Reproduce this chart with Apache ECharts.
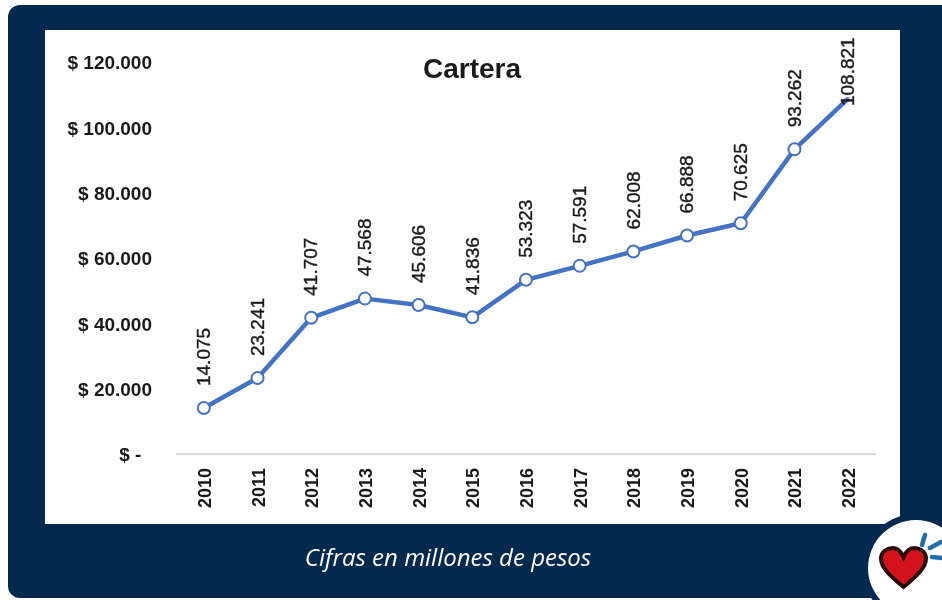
<!DOCTYPE html>
<html>
<head>
<meta charset="utf-8">
<style>
  html, body { margin: 0; padding: 0; background: #fff; }
  #chart { width: 942px; height: 600px; }
</style>
<script src="https://cdn.jsdelivr.net/npm/echarts@6/dist/echarts.min.js"></script>
</head>
<body>
<div id="chart"></div>
<script>
const years = ['2010', '2011', '2012', '2013', '2014', '2015', '2016', '2017', '2018', '2019', '2020', '2021', '2022']
const cartera = [14075, 23241, 41707, 47568, 45606, 41836, 53323, 57591, 62008, 66888, 70625, 93262, 108821]
const titulo = 'Cartera'
const nota = 'Cifras en millones de pesos'

const navy = '#032a4e'
const blue = '#4472c4'
const textColor = '#1a1a1a'
const font = '"Liberation Sans", Arial, sans-serif'

// 120000 -> 120.000
const miles = v => String(v).replace(/\B(?=(\d{3})+$)/g, '.')

// corazon del logo
echarts.graphic.registerShape('heart', echarts.graphic.extendShape({
  shape: { x: 0, y: 0, width: 0, height: 0 },
  buildPath(ctx, s) {
    const w = s.width, h = s.height, x = s.x, y = s.y
    ctx.moveTo(x + w * 0.5, y + h)
    ctx.bezierCurveTo(x + w * 0.2, y + h * 0.72, x, y + h * 0.5, x, y + h * 0.27)
    ctx.bezierCurveTo(x, y + h * 0.08, x + w * 0.14, y, x + w * 0.27, y)
    ctx.bezierCurveTo(x + w * 0.37, y, x + w * 0.45, y + h * 0.1, x + w * 0.5, y + h * 0.24)
    ctx.bezierCurveTo(x + w * 0.55, y + h * 0.1, x + w * 0.63, y, x + w * 0.73, y)
    ctx.bezierCurveTo(x + w * 0.86, y, x + w, y + h * 0.08, x + w, y + h * 0.27)
    ctx.bezierCurveTo(x + w, y + h * 0.5, x + w * 0.8, y + h * 0.72, x + w * 0.5, y + h)
    ctx.closePath()
  }
}))

const chart = echarts.init(document.getElementById('chart'))
chart.setOption({
  animation: false,
  title: {
    text: titulo,
    left: 467,
    top: 51,
    textAlign: 'center',
    textStyle: { fontFamily: font, fontSize: 28, fontWeight: 'bold', color: textColor }
  },
  grid: { left: 177, top: 62, width: 698, height: 392 },
  xAxis: {
    type: 'category',
    data: years,
    axisLine: { lineStyle: { color: '#d9d9d9', width: 2 } },
    axisTick: { show: false },
    axisLabel: {
      rotate: 90,
      margin: 14,
      fontFamily: font,
      fontSize: 18,
      fontWeight: 'bold',
      color: textColor,
      formatter: v => '{t|' + v + '}',
      rich: { t: { padding: [4, 0, 0, 0], fontFamily: font, fontSize: 18, fontWeight: 'bold', color: textColor } }
    }
  },
  yAxis: {
    type: 'value',
    min: 0,
    max: 120000,
    interval: 20000,
    axisLine: { show: false },
    axisTick: { show: false },
    splitLine: { show: false },
    axisLabel: {
      margin: 25,
      fontFamily: font,
      fontSize: 19,
      fontWeight: 'bold',
      color: textColor,
      formatter: v => '{t|' + (v === 0 ? '$ -  ' : '$ ' + miles(v)) + '}',
      rich: { t: { padding: [4, 0, 0, 0], fontFamily: font, fontSize: 19, fontWeight: 'bold', color: textColor } }
    }
  },
  series: [
    {
      type: 'line',
      // el ultimo punto queda tapado por su etiqueta
      data: cartera.map((v, i) => (i === cartera.length - 1 ? { value: v, symbolSize: 1, label: { distance: -8 } } : v)),
      lineStyle: { color: blue, width: 4.5 },
      symbol: 'circle',
      symbolSize: 12,
      itemStyle: { color: '#fff', borderColor: blue, borderWidth: 2 },
      z: 3,
      label: {
        show: true,
        position: 'top',
        rotate: 90,
        align: 'left',
        verticalAlign: 'middle',
        distance: 16,
        offset: [-1, 1],
        fontFamily: font,
        fontSize: 19,
        color: textColor,
        textBorderColor: textColor,
        textBorderWidth: 0.4,
        formatter: p => miles(p.value)
      }
    }
  ],
  graphic: [
    { type: 'rect', z: -10, shape: { x: 8, y: 5, width: 960, height: 593, r: 12 }, style: { fill: navy } },
    { type: 'rect', z: -9, shape: { x: 45, y: 30, width: 855, height: 494 }, style: { fill: '#fff' } },
    {
      type: 'text',
      z: 5,
      x: 448,
      y: 559,
      style: {
        text: nota,
        fill: '#fff',
        align: 'center',
        verticalAlign: 'middle',
        fontFamily: '"Open Sans", sans-serif',
        fontStyle: 'italic',
        fontSize: 24
      }
    },
    { type: 'circle', z: 6, shape: { cx: 916, cy: 568, r: 54 }, style: { fill: navy } },
    { type: 'circle', z: 7, shape: { cx: 916, cy: 568, r: 48 }, style: { fill: '#fff' } },
    {
      type: 'heart',
      z: 8,
      shape: { x: 881, y: 548, width: 45, height: 39 },
      style: { fill: '#d3121b', stroke: '#2a0a0a', lineWidth: 4 }
    },
    { type: 'line', z: 8, shape: { x1: 922, y1: 545, x2: 925, y2: 535 }, style: { stroke: '#1f6fa8', lineWidth: 4.5, lineCap: 'round' } },
    { type: 'line', z: 8, shape: { x1: 930, y1: 548, x2: 941, y2: 542 }, style: { stroke: '#1f6fa8', lineWidth: 4.5, lineCap: 'round' } },
    { type: 'line', z: 8, shape: { x1: 932, y1: 557, x2: 942, y2: 558 }, style: { stroke: '#1f6fa8', lineWidth: 4.5, lineCap: 'round' } }
  ]
})
</script>
</body>
</html>
